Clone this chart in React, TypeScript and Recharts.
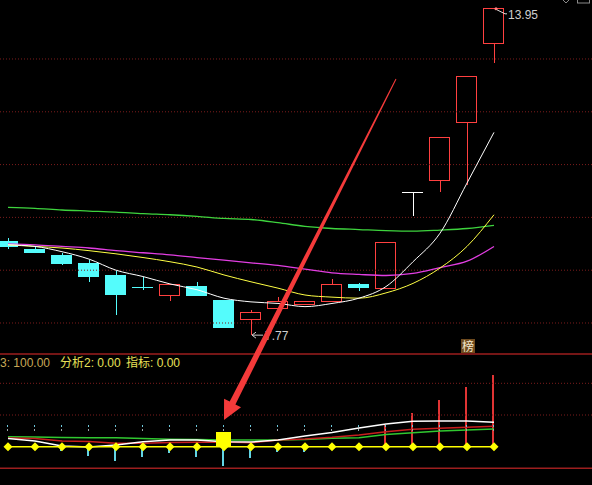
import React from "react";
import {
  ComposedChart,
  Bar,
  Line,
  Scatter,
  XAxis,
  YAxis,
  ReferenceLine,
  ReferenceDot,
} from "recharts";

const W = 592;
const H = 485;

// trading days (index along the time axis)
const days = [0, 1, 2, 3, 4, 5, 6, 7, 8, 9, 10, 11, 12, 13, 14, 15, 16, 17, 18];

// daily OHLC
const opens = [9.55, 9.4, 9.29, 9.14, 8.91, 8.69, 8.52, 8.71, 8.44, 8.06, 8.28, 8.35, 8.4, 8.73, 8.65, 10.48, 10.69, 11.8, 13.3];
const closes = [9.43, 9.33, 9.12, 8.88, 8.53, 8.68, 8.73, 8.52, 7.91, 8.2, 8.4, 8.4, 8.73, 8.67, 9.53, 10.48, 11.52, 12.67, 13.95];
const highs = [9.61, 9.45, 9.33, 9.19, 8.99, 8.88, 8.73, 8.78, 8.44, 8.25, 8.5, 8.41, 8.83, 8.75, 9.53, 10.48, 11.52, 12.67, 13.95];
const lows = [9.4, 9.33, 9.1, 8.78, 8.15, 8.63, 8.42, 8.52, 7.9, 7.77, 8.28, 8.35, 8.4, 8.61, 8.65, 10.03, 10.49, 10.61, 12.92];

// moving averages
const ma5 = [9.48, 9.45, 9.35, 9.21, 9.0, 8.88, 8.74, 8.63, 8.47, 8.4, 8.37, 8.31, 8.37, 8.47, 8.69, 9.16, 9.7, 10.65, 11.61];
const ma10 = [9.48, 9.45, 9.42, 9.37, 9.31, 9.24, 9.16, 9.06, 8.91, 8.78, 8.66, 8.53, 8.49, 8.47, 8.57, 8.75, 9.04, 9.45, 10.05];
const ma20 = [9.5, 9.48, 9.45, 9.42, 9.37, 9.33, 9.29, 9.24, 9.19, 9.14, 9.09, 9.02, 8.95, 8.92, 8.9, 8.94, 9.05, 9.17, 9.45];
const ma60 = [10.19, 10.17, 10.14, 10.12, 10.1, 10.07, 10.05, 10.02, 9.98, 9.96, 9.9, 9.83, 9.79, 9.77, 9.75, 9.74, 9.76, 9.79, 9.85];

// indicator panel
const sigWhite = [13.0, 9.0, 1.1, -0.5, 2.7, 7.9, 10.6, 10.6, 7.9, 7.4, 10.6, 16.9, 22.4, 29.5, 35.8, 40.1, 40.5, 40.5, 38.5];
const sigRed = [13.7, 12.9, 9.0, 8.2, 5.4, 5.4, 6.6, 6.9, 7.4, 6.3, 10.6, 12.1, 14.8, 18.5, 23.7, 27.4, 29.0, 30.6, 32.2];
const sigGreen = [15.8, 15.3, 14.5, 14.2, 14.2, 12.9, 11.7, 11.4, 10.6, 10.6, 10.6, 11.4, 13.2, 14.2, 19.2, 22.1, 24.8, 26.3, 27.9];
const sticks = [0, 0, -6.8, -14.2, -22.1, -15.8, -10.4, -15.8, -30.0, -18.3, -7.9, -7.6, 0, 0, 34.2, 52.4, 73.7, 94.6, 113.0];
const boxSignal = [null, null, null, null, null, null, null, null, 23.7, null, null, null, null, null, null, null, null, null, null];
const markLevel = 29.5;

const priceGrid = [8, 9, 10, 11, 12, 13];
const indGrid = [50, 100];
const panelTop = 146.2;
const panelBottom = -34.1;

const xDomain = [-0.296, 21.63];
const priceDomain = [4.932, 14.117];
const indDomain = [-60.4, 704.6];

const rows = days.map((d, k) => ({
  i: d,
  open: opens[k],
  close: closes[k],
  high: highs[k],
  low: lows[k],
  range: [lows[k], highs[k]],
  ma5: ma5[k],
  ma10: ma10[k],
  ma20: ma20[k],
  ma60: ma60[k],
  base: 0,
  mark: markLevel,
  w: sigWhite[k],
  r: sigRed[k],
  g: sigGreen[k],
  stick: sticks[k] === 0 ? null : [Math.min(0, sticks[k]), Math.max(0, sticks[k])],
  stickVal: sticks[k],
  box: boxSignal[k],
}));

const UP = "#ff4040";
const DOWN = "#54fcfc";
const FONT = "'Liberation Sans', Arial, 'Noto Sans CJK SC', sans-serif";

const Candle = (props: any) => {
  const { x, y, width, height, payload } = props;
  if (x == null || y == null || !payload) return null;
  const { open, close, high, low } = payload;
  const h = Math.abs(height);
  const top0 = Math.min(y, y + height);
  const k = h / (high - low);
  const yO = top0 + (high - open) * k;
  const yC = top0 + (high - close) * k;
  const cx = Math.round(x + width / 2) + 0.5;
  const bTop = Math.min(yO, yC);
  const bBot = Math.max(yO, yC);
  const yHigh = top0;
  const yLow = top0 + h;
  if (close > open) {
    return (
      <g shapeRendering="crispEdges">
        {bTop - yHigh > 0.5 && <line x1={cx} x2={cx} y1={yHigh} y2={bTop} stroke={UP} />}
        {yLow - bBot > 0.5 && <line x1={cx} x2={cx} y1={bBot} y2={yLow} stroke={UP} />}
        <rect x={x + 0.5} y={bTop} width={width - 1} height={Math.max(bBot - bTop, 1)} fill="none" stroke={UP} />
      </g>
    );
  }
  if (close < open) {
    return (
      <g shapeRendering="crispEdges">
        <line x1={cx} x2={cx} y1={yHigh} y2={yLow} stroke={DOWN} />
        <rect x={x} y={bTop} width={width} height={Math.max(bBot - bTop, 1.5)} fill={DOWN} />
      </g>
    );
  }
  return (
    <g shapeRendering="crispEdges">
      <line x1={cx} x2={cx} y1={yHigh} y2={yLow} stroke="#ffffff" />
      <line x1={x} x2={x + width} y1={bTop} y2={bTop} stroke="#ffffff" />
    </g>
  );
};

const Stick = (props: any) => {
  const { x, y, width, height, payload } = props;
  if (x == null || y == null || !payload) return null;
  const top = Math.min(y, y + height);
  const h = Math.abs(height);
  const color = payload.stickVal > 0 ? "#e03434" : "#62d4e4";
  return <rect x={x} y={top} width={width} height={h} fill={color} shapeRendering="crispEdges" />;
};

const Diamond = (props: any) => {
  const { cx, cy, index } = props;
  if (cx == null || cy == null) return null;
  return (
    <polygon
      key={`d${index}`}
      points={`${cx},${cy - 4.5} ${cx + 4.5},${cy} ${cx},${cy + 4.5} ${cx - 4.5},${cy}`}
      fill="#ffff00"
    />
  );
};

const Mark = (props: any) => {
  const { cx, cy } = props;
  if (cx == null || cy == null) return null;
  return (
    <g shapeRendering="crispEdges">
      <rect x={cx - 0.5} y={cy - 3} width={1} height={2} fill="#6cc8dc" />
      <rect x={cx - 0.5} y={cy + 1} width={1} height={2} fill="#9aa6a8" />
    </g>
  );
};

// 15px signal square whose top edge sits at the signal value
const BoxMark = (props: any) => {
  const { cx, cy } = props;
  if (cx == null || cy == null) return null;
  return <rect x={cx - 7.5} y={cy} width={15} height={15} fill="#ffff00" shapeRendering="crispEdges" />;
};

const HighLabel = (props: any) => {
  const { cx, cy } = props;
  return (
    <g>
      <circle cx={cx + 2} cy={cy} r={1.5} fill="#ff8080" />
      <line x1={cx + 3} y1={cy + 1} x2={cx + 11} y2={cy + 5} stroke="#dddddd" />
      <line x1={cx + 11} y1={cy + 5} x2={cx + 13} y2={cy + 5} stroke="#dddddd" />
      <text x={cx + 14} y={cy + 10} fill="#cfcfcf" fontSize={12} fontFamily={FONT}>
        {highs[18].toFixed(2)}
      </text>
    </g>
  );
};

const LowLabel = (props: any) => {
  const { cx, cy } = props;
  return (
    <g>
      <line x1={cx + 1} y1={cy} x2={cx + 12} y2={cy} stroke="#cccccc" />
      <line x1={cx + 1} y1={cy} x2={cx + 5} y2={cy - 3} stroke="#cccccc" />
      <line x1={cx + 1} y1={cy} x2={cx + 5} y2={cy + 3} stroke="#cccccc" />
      <text x={cx + 14} y={cy + 5} fill="#cfcfcf" fontSize={12} fontFamily={FONT}>
        {lows[9].toFixed(2)}
      </text>
    </g>
  );
};

// pointer from the upper panel down to the signal box
const Pointer = (props: any) => {
  const { cx, cy } = props;
  if (cx == null || cy == null) return null;
  const tx = cx + 172;
  const ty = cy - 341;
  const len = Math.hypot(tx - cx, ty - cy);
  const ux = (tx - cx) / len;
  const uy = (ty - cy) / len;
  const nx = -uy;
  const ny = ux;
  const headLen = 19;
  const headHalf = 9.5;
  const bx = cx + ux * headLen;
  const by = cy + uy * headLen;
  const pts = [
    [tx + nx * 0.5, ty + ny * 0.5],
    [bx + nx * 3.2, by + ny * 3.2],
    [bx + nx * headHalf, by + ny * headHalf],
    [cx, cy],
    [bx - nx * headHalf, by - ny * headHalf],
    [bx - nx * 3.2, by - ny * 3.2],
    [tx - nx * 0.5, ty - ny * 0.5],
  ];
  return <polygon points={pts.map((p) => p.join(",")).join(" ")} fill="#f43a3a" />;
};

export default function App() {
  return (
    <div style={{ position: "fixed", left: 0, top: 0, width: W, height: H, background: "#000", overflow: "hidden" }}>
      <ComposedChart
        width={W}
        height={H}
        data={rows}
        margin={{ top: 0, right: 0, bottom: 0, left: 0 }}
        accessibilityLayer={false}
      >
        <XAxis xAxisId="a" dataKey="i" type="number" domain={xDomain} allowDataOverflow hide />
        <XAxis xAxisId="b" dataKey="i" type="number" domain={xDomain} allowDataOverflow hide />
        <YAxis yAxisId="p" type="number" domain={priceDomain} allowDataOverflow hide />
        <YAxis yAxisId="ind" type="number" domain={indDomain} allowDataOverflow hide />

        {priceGrid.map((v) => (
          <ReferenceLine key={`pg${v}`} xAxisId="a" yAxisId="p" y={v} stroke="#7c1c1c" strokeDasharray="1 2" />
        ))}
        {indGrid.map((v) => (
          <ReferenceLine key={`ig${v}`} xAxisId="a" yAxisId="ind" y={v} stroke="#7c1c1c" strokeDasharray="1 2" />
        ))}
        <ReferenceLine xAxisId="a" yAxisId="ind" y={panelTop} stroke="#9c1e1e" strokeWidth={1.5} />
        <ReferenceLine xAxisId="a" yAxisId="ind" y={panelBottom} stroke="#9c1e1e" strokeWidth={1.5} />

        <Line xAxisId="a" yAxisId="p" dataKey="ma60" type="monotone" stroke="#3ed43e" strokeWidth={1.3} dot={false} activeDot={false} isAnimationActive={false} />
        <Line xAxisId="a" yAxisId="p" dataKey="ma20" type="monotone" stroke="#e23ee2" strokeWidth={1.3} dot={false} activeDot={false} isAnimationActive={false} />
        <Line xAxisId="a" yAxisId="p" dataKey="ma10" type="monotone" stroke="#ffff44" strokeWidth={1} dot={false} activeDot={false} isAnimationActive={false} />
        <Line xAxisId="a" yAxisId="p" dataKey="ma5" type="monotone" stroke="#ffffff" strokeWidth={1} dot={false} activeDot={false} isAnimationActive={false} />

        <Bar xAxisId="a" yAxisId="p" dataKey="range" barSize={21} shape={<Candle />} activeBar={false} isAnimationActive={false} />

        <Line xAxisId="a" yAxisId="ind" dataKey="g" type="linear" stroke="#30c830" strokeWidth={1.5} dot={false} activeDot={false} isAnimationActive={false} />
        <Line xAxisId="a" yAxisId="ind" dataKey="r" type="linear" stroke="#c81e1e" strokeWidth={1.5} dot={false} activeDot={false} isAnimationActive={false} />
        <Line xAxisId="a" yAxisId="ind" dataKey="w" type="linear" stroke="#ffffff" strokeWidth={1.5} dot={false} activeDot={false} isAnimationActive={false} />

        <Bar xAxisId="b" yAxisId="ind" dataKey="stick" barSize={2} shape={<Stick />} activeBar={false} isAnimationActive={false} />
        <Scatter xAxisId="a" yAxisId="ind" dataKey="mark" shape={<Mark />} isAnimationActive={false} />
        <Line xAxisId="a" yAxisId="ind" dataKey="base" type="linear" stroke="#ffff00" strokeWidth={1.5} dot={<Diamond />} activeDot={false} isAnimationActive={false} />
        <Scatter xAxisId="a" yAxisId="ind" dataKey="box" shape={<BoxMark />} isAnimationActive={false} />

        <ReferenceDot xAxisId="a" yAxisId="p" x={18} y={highs[18]} shape={<HighLabel />} />
        <ReferenceDot xAxisId="a" yAxisId="p" x={9} y={lows[9]} shape={<LowLabel />} />
        <ReferenceDot xAxisId="a" yAxisId="ind" x={8} y={42.1} shape={<Pointer />} />
      </ComposedChart>

      <svg width={W} height={H} style={{ position: "absolute", left: 0, top: 0, pointerEvents: "none" }}>
        <text x={0} y={367} fontSize={12} fontFamily={FONT} fill="#c8a856">3: 100.00</text>
        <text x={60} y={367} fontSize={12} fontFamily={FONT} fill="#e8e258">分析2: 0.00</text>
        <text x={126} y={367} fontSize={12} fontFamily={FONT} fill="#e8e258">指标: 0.00</text>
        <rect x={461} y={339} width={14} height={14} fill="#6e4a1e" />
        <text x={468} y={350.5} fontSize={12} textAnchor="middle" fontFamily="'Noto Sans CJK SC', sans-serif" fill="#f4e8cc">榜</text>
        <polyline points="563,0 566,3 569,0" fill="none" stroke="#8a8a8a" />
        <rect x={577.5} y={-2} width={12} height={5} fill="none" stroke="#8a8a8a" />
      </svg>
    </div>
  );
}
